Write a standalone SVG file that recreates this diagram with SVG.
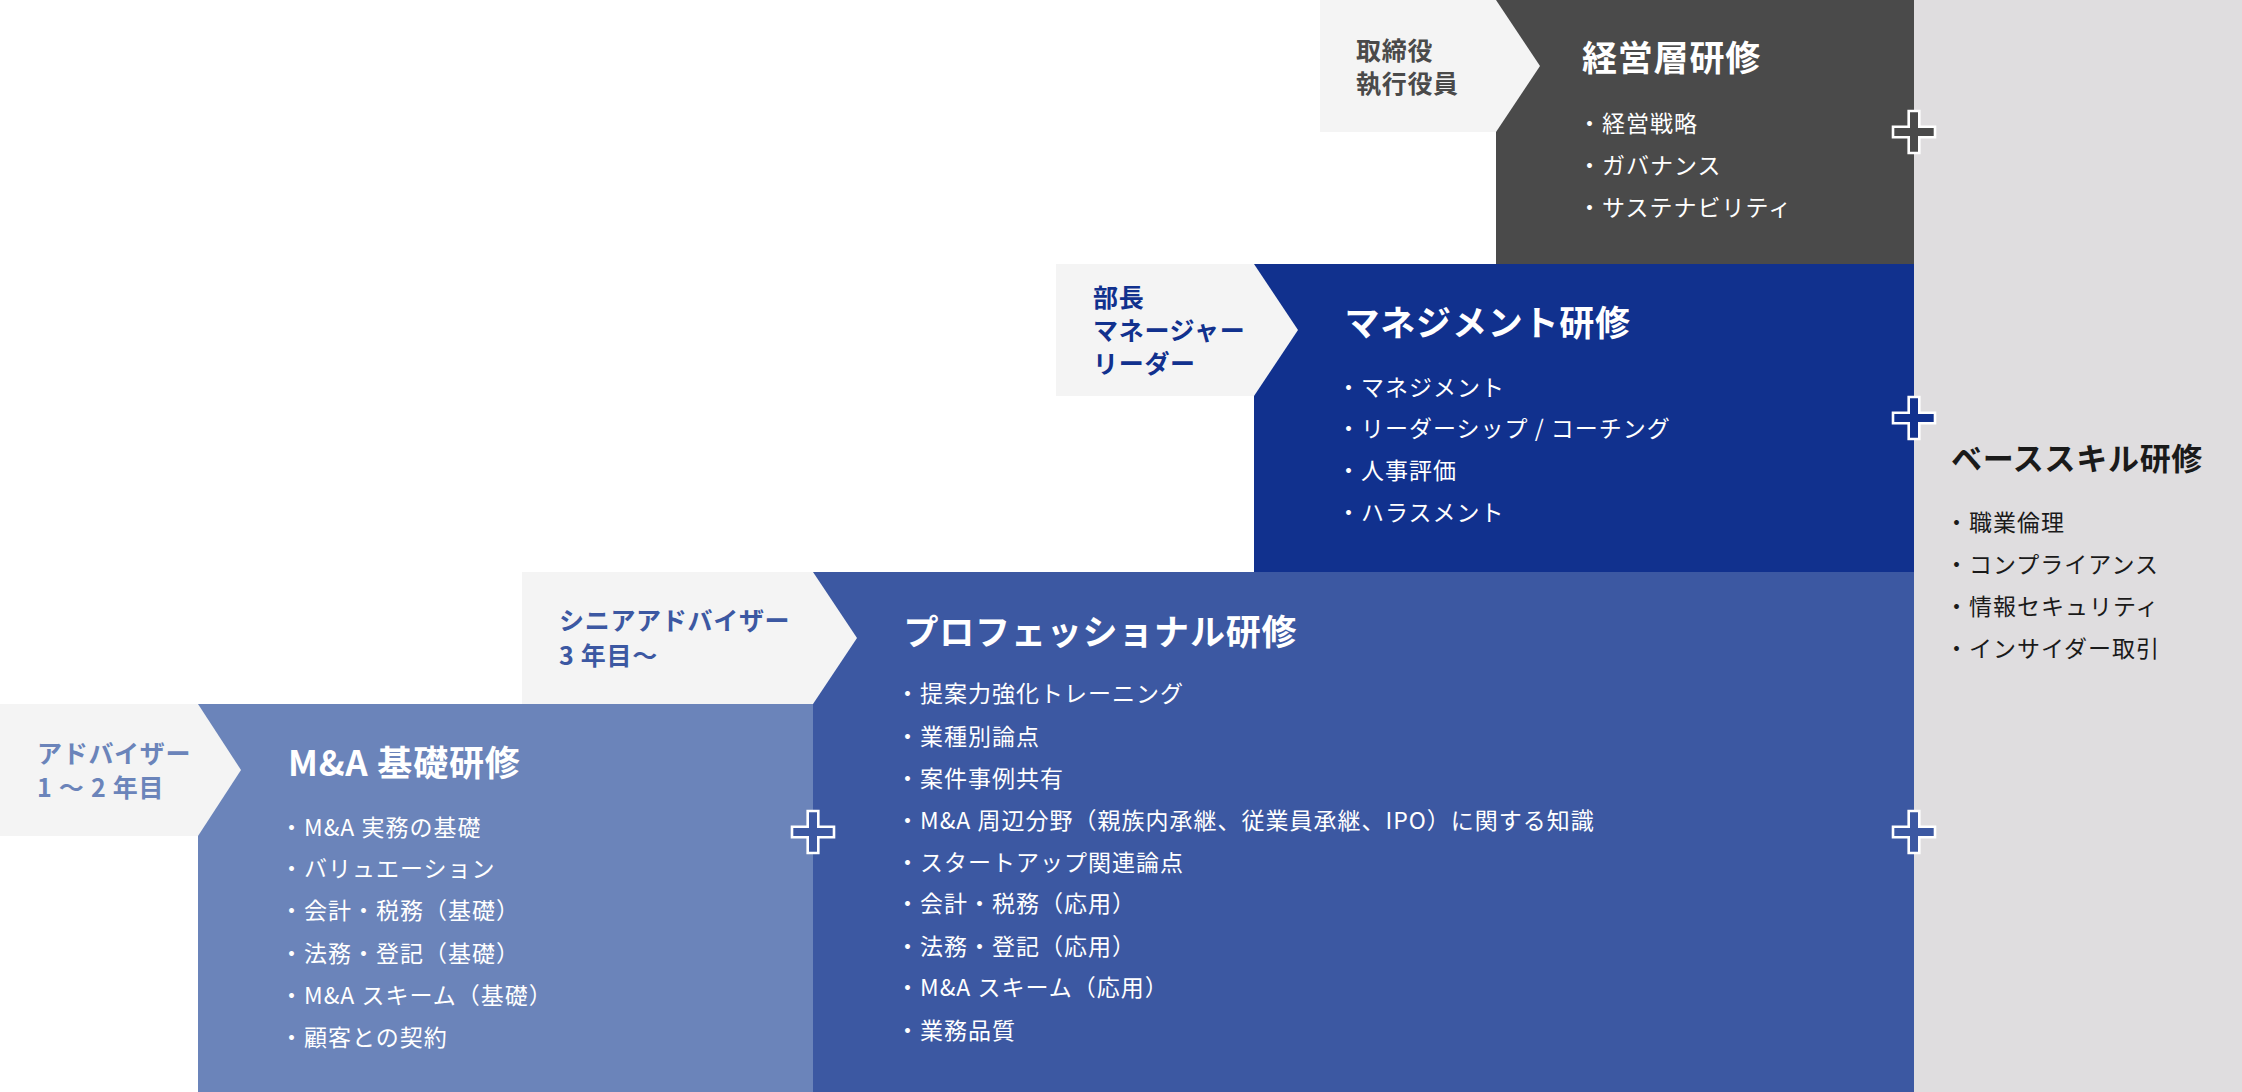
<svg xmlns="http://www.w3.org/2000/svg" xmlns:xlink="http://www.w3.org/1999/xlink" width="2242" height="1092" viewBox="0 0 2242 1092">
<defs>
<style>
text{font-family:"Noto Sans CJK JP","Noto Sans",sans-serif;}
.lbl{font-size:25px;font-weight:700;letter-spacing:0.7px;}
.ttl{font-size:35px;font-weight:700;fill:#ffffff;letter-spacing:0.8px;}
.itm{font-size:23px;font-weight:400;fill:#ffffff;letter-spacing:1px;}
.dk{fill:#1a1a1a;}
.tag{fill:#f4f4f4;}
.plus{stroke:#ffffff;stroke-width:2.6;}
</style>
<path id="plusShape" d="M-5.3,-21 H5.3 V-5.3 H21 V5.3 H5.3 V21 H-5.3 V5.3 H-21 V-5.3 H-5.3 Z"/>
</defs>
<rect x="0" y="0" width="2242" height="1092" fill="#ffffff"/>

<g id="base-skill">
<rect x="1914" y="0" width="328" height="1092" fill="#dfdddf"/>
<text x="1951" y="470" style="font-size:31px;font-weight:700;letter-spacing:0.7px;" fill="#1a1a1a">ベーススキル研修</text>
<text x="1945" y="531" class="itm dk">・職業倫理</text>
<text x="1945" y="573" class="itm dk">・コンプライアンス</text>
<text x="1945" y="615" class="itm dk">・情報セキュリティ</text>
<text x="1945" y="657" class="itm dk">・インサイダー取引</text>
</g>

<g id="executive">
<rect x="1496" y="0" width="418" height="264" fill="#4a4a4a"/>
<polygon class="tag" points="1320,0 1496,0 1540,66 1496,132 1320,132"/>
<text class="lbl" x="1356" y="59.5" fill="#4a4a4a">取締役</text>
<text class="lbl" x="1356" y="92.5" fill="#4a4a4a">執行役員</text>
<text class="ttl" x="1582" y="71">経営層研修</text>
<text class="itm" x="1578" y="132">・経営戦略</text>
<text class="itm" x="1578" y="174">・ガバナンス</text>
<text class="itm" x="1578" y="216">・サステナビリティ</text>
</g>

<g id="management">
<rect x="1254" y="264" width="660" height="308" fill="#11318e"/>
<polygon class="tag" points="1056,264 1254,264 1298,330 1254,396 1056,396"/>
<text class="lbl" x="1093" y="306.5" fill="#11318e">部長</text>
<text class="lbl" x="1093" y="339.5" fill="#11318e">マネージャー</text>
<text class="lbl" x="1093" y="372.5" fill="#11318e">リーダー</text>
<text class="ttl" x="1344.5" y="336">マネジメント研修</text>
<text class="itm" x="1337" y="396">・マネジメント</text>
<text class="itm" x="1337" y="437">・リーダーシップ / コーチング</text>
<text class="itm" x="1337" y="479">・人事評価</text>
<text class="itm" x="1337" y="521">・ハラスメント</text>
</g>

<g id="professional">
<rect x="813" y="572" width="1101" height="520" fill="#3c58a2"/>
<polygon class="tag" points="522,572 813,572 857,638 813,704 522,704"/>
<text class="lbl" x="559" y="629.5" fill="#3c58a2">シニアアドバイザー</text>
<text class="lbl" x="559" y="664.5" fill="#3c58a2">3 年目～</text>
<text class="ttl" x="903.5" y="645">プロフェッショナル研修</text>
<text class="itm" x="896" y="702">・提案力強化トレーニング</text>
<text class="itm" x="896" y="745">・業種別論点</text>
<text class="itm" x="896" y="787">・案件事例共有</text>
<text class="itm" x="896" y="829">・M&amp;A 周辺分野（親族内承継、従業員承継、IPO）に関する知識</text>
<text class="itm" x="896" y="871">・スタートアップ関連論点</text>
<text class="itm" x="896" y="912">・会計・税務（応用）</text>
<text class="itm" x="896" y="955">・法務・登記（応用）</text>
<text class="itm" x="896" y="996">・M&amp;A スキーム（応用）</text>
<text class="itm" x="896" y="1039">・業務品質</text>
</g>

<g id="ma-basic">
<rect x="198" y="704" width="615" height="388" fill="#6b84ba"/>
<polygon class="tag" points="0,704 198,704 241,770 198,836 0,836"/>
<text class="lbl" x="37" y="762.5" fill="#6b84ba">アドバイザー</text>
<text class="lbl" x="37" y="796.5" fill="#6b84ba">1 ～ 2 年目</text>
<text class="ttl" x="288" y="776">M&amp;A 基礎研修</text>
<text class="itm" x="280" y="836">・M&amp;A 実務の基礎</text>
<text class="itm" x="280" y="877">・バリュエーション</text>
<text class="itm" x="280" y="919">・会計・税務（基礎）</text>
<text class="itm" x="280" y="962">・法務・登記（基礎）</text>
<text class="itm" x="280" y="1004">・M&amp;A スキーム（基礎）</text>
<text class="itm" x="280" y="1046">・顧客との契約</text>
</g>

<g id="connectors">
<use xlink:href="#plusShape" class="plus" x="1914" y="132" fill="#4a4a4a"/>
<use xlink:href="#plusShape" class="plus" x="1914" y="418" fill="#11318e"/>
<use xlink:href="#plusShape" class="plus" x="1914" y="832" fill="#3c58a2"/>
<use xlink:href="#plusShape" class="plus" x="813" y="832" fill="#3c58a2"/>
</g>
</svg>
